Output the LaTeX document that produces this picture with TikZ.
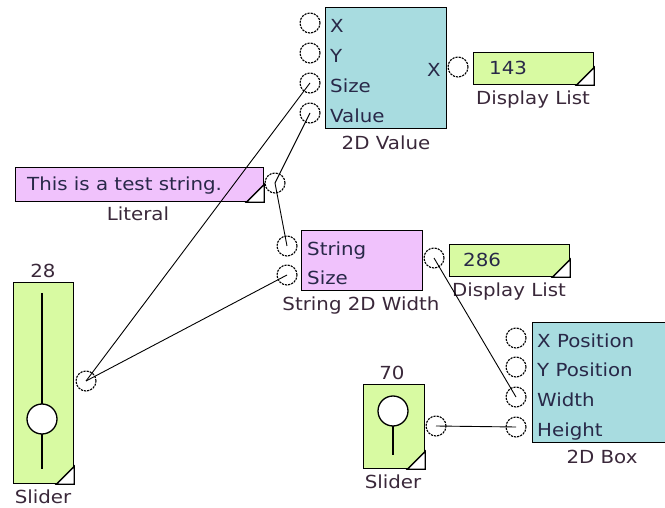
\documentclass[tikz,border=0pt]{standalone}
\usepackage{fontspec}
\setmainfont[FakeStretch=1.1]{DejaVu Sans}
\usetikzlibrary{calc}
\definecolor{valcyan}{RGB}{168,220,224}
\definecolor{strpink}{RGB}{240,194,252}
\definecolor{lime}{RGB}{216,250,162}
\definecolor{pintext}{RGB}{40,40,72}
\definecolor{captext}{RGB}{58,40,58}
\begin{document}
\begin{tikzpicture}[
    x=1pt, y=-1pt,
    block/.style={draw, line width=1.3pt, inner sep=0pt, anchor=north west},
    port/.style={circle, draw, line width=1.1pt, dash pattern=on 2.2pt off 1pt, minimum size=20pt, inner sep=0pt},
    pin/.style={font=\fontsize{18}{20}\selectfont, text=pintext, inner sep=0pt, anchor=west, text height=13pt, text depth=0pt},
    caption/.style={pin, text=captext, anchor=center},
    corner/.style={fill=white, draw, line width=1.3pt},
    wire/.style={line width=0.9pt},
    knob/.style={circle, draw, fill=white, line width=1.3pt, minimum size=30pt, inner sep=0pt}
]
\useasboundingbox (0,0) rectangle (665,508);

% 2D Value
\node[block, fill=valcyan, minimum width=121pt, minimum height=121pt] (Value2D) at (325,7) {};
\node[pin] (ValXTxt) at (330,26) {X};
\node[pin] (ValYTxt) at (330,56) {Y};
\node[pin] (ValSizeTxt) at (330,86) {Size};
\node[pin] (ValValueTxt) at (330,116) {Value};
\node[pin, anchor=east] (ValOutTxt) at (441,70) {X};
\node[caption] (Value2DLbl) at (386,143) {2D Value};
\node[port] (ValX) at (310,23) {};
\node[port] (ValY) at (310,53) {};
\node[port] (ValSize) at (310,83) {};
\node[port] (ValValue) at (310,113) {};
\node[port] (ValOut) at (458,67) {};

% Display List 143
\node[block, fill=lime, minimum width=120pt, minimum height=32pt] (List143) at (473,52) {};
\filldraw[corner] ($(List143.south east)+(-18,0)$) -- (List143.south east) -- ($(List143.south east)+(0,-18)$) -- cycle;
\node[pin] (List143Txt) at (489,68) {143};
\node[caption] (List143Lbl) at (533,98) {Display List};

% Literal
\node[block, fill=strpink, minimum width=248pt, minimum height=34pt] (Literal) at (15,167) {};
\filldraw[corner] ($(Literal.south east)+(-18,0)$) -- (Literal.south east) -- ($(Literal.south east)+(0,-18)$) -- cycle;
\node[pin] (LiteralTxt) at (27,184) {This is a test string.};
\node[caption] (LiteralLbl) at (138,214) {Literal};
\node[port] (LitOut) at (275,183) {};

% String 2D Width
\node[block, fill=strpink, minimum width=121pt, minimum height=60pt] (Width2D) at (301,230) {};
\node[pin] (WidthStringTxt) at (307,249) {String};
\node[pin] (WidthSizeTxt) at (307,278) {Size};
\node[caption] (Width2DLbl) at (361,304) {String 2D Width};
\node[port] (WidthString) at (287,246) {};
\node[port] (WidthSize) at (287,275) {};
\node[port] (WidthOut) at (434,258) {};

% Display List 286
\node[block, fill=lime, minimum width=120pt, minimum height=32pt] (List286) at (449,244) {};
\filldraw[corner] ($(List286.south east)+(-18,0)$) -- (List286.south east) -- ($(List286.south east)+(0,-18)$) -- cycle;
\node[pin] (List286Txt) at (463,260) {286};
\node[caption] (List286Lbl) at (509,290) {Display List};

% Slider 28
\node[block, fill=lime, minimum width=60pt, minimum height=201pt] (SliderA) at (13,282) {};
\filldraw[corner] ($(SliderA.south east)+(-18,0)$) -- (SliderA.south east) -- ($(SliderA.south east)+(0,-18)$) -- cycle;
\draw[line width=1.3pt] (42,293) -- (42,469);
\node[knob] (KnobA) at (42,419) {};
\node[caption] (SliderAVal) at (43,271) {28};
\node[caption] (SliderALbl) at (43,497) {Slider};
\node[port] (SliderAOut) at (86,381) {};

% Slider 70
\node[block, fill=lime, minimum width=61pt, minimum height=84pt] (SliderB) at (363,384) {};
\filldraw[corner] ($(SliderB.south east)+(-18,0)$) -- (SliderB.south east) -- ($(SliderB.south east)+(0,-18)$) -- cycle;
\draw[line width=1.3pt] (393,420) -- (393,455);
\node[knob] (KnobB) at (393,411) {};
\node[caption] (SliderBVal) at (392,373) {70};
\node[caption] (SliderBLbl) at (393,482) {Slider};
\node[port] (SliderBOut) at (436,426) {};

% 2D Box
\node[block, fill=valcyan, minimum width=140pt, minimum height=120pt] (Box2D) at (532,322) {};
\node[pin] (BoxXTxt) at (537,341) {X Position};
\node[pin] (BoxYTxt) at (537,370) {Y Position};
\node[pin] (BoxWidthTxt) at (537,400) {Width};
\node[pin] (BoxHeightTxt) at (537,430) {Height};
\node[caption] (Box2DLbl) at (602,457) {2D Box};
\node[port] (BoxX) at (516,338) {};
\node[port] (BoxY) at (516,367) {};
\node[port] (BoxWidth) at (516,397) {};
\node[port] (BoxHeight) at (516,427) {};

% wires
\draw[wire] (SliderAOut.center) -- (ValSize.center);
\draw[wire] (SliderAOut.center) -- (WidthSize.center);
\draw[wire] (LitOut.center) -- (ValValue.center);
\draw[wire] (LitOut.center) -- (WidthString.center);
\draw[wire] (WidthOut.center) -- (BoxWidth.center);
\draw[wire] (SliderBOut.center) -- (BoxHeight.center);
\end{tikzpicture}
\end{document}
